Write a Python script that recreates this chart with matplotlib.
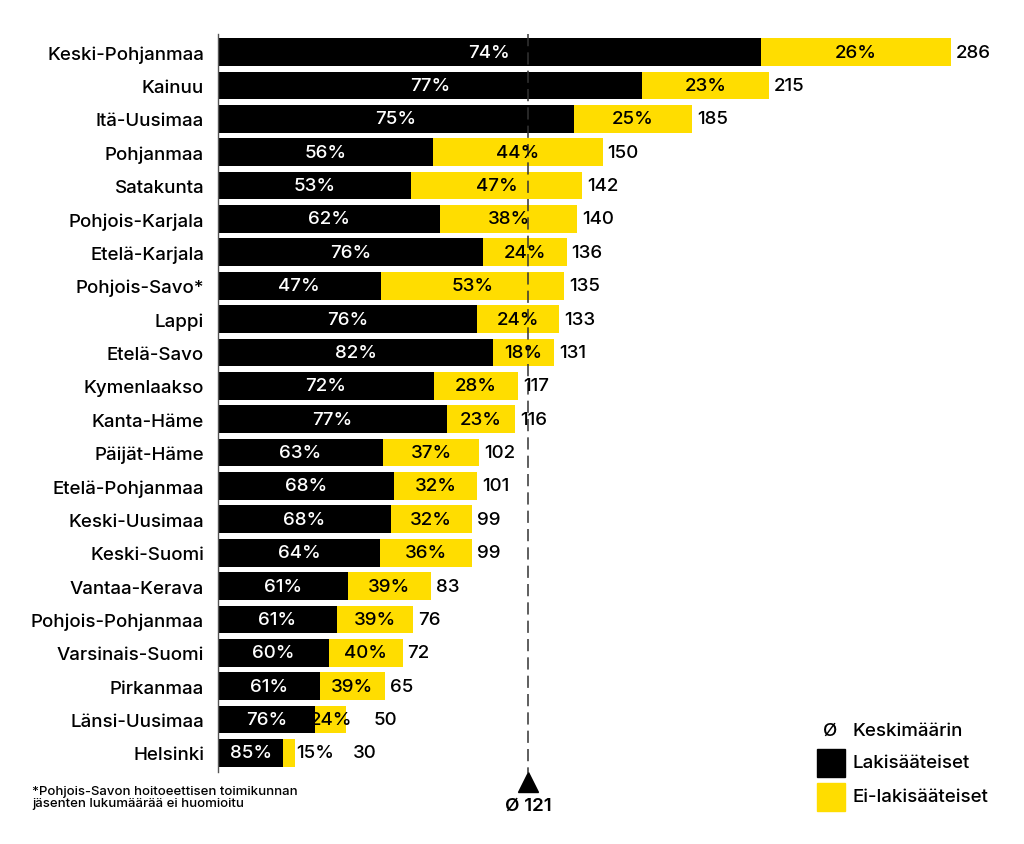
import matplotlib.pyplot as plt
from matplotlib.patches import Rectangle

plt.rcParams['font.family'] = ['Inter', 'DejaVu Sans']
plt.rcParams['font.weight'] = 'medium'

alueet = ['Keski-Pohjanmaa', 'Kainuu', 'Itä-Uusimaa', 'Pohjanmaa', 'Satakunta',
          'Pohjois-Karjala', 'Etelä-Karjala', 'Pohjois-Savo*', 'Lappi', 'Etelä-Savo',
          'Kymenlaakso', 'Kanta-Häme', 'Päijät-Häme', 'Etelä-Pohjanmaa', 'Keski-Uusimaa',
          'Keski-Suomi', 'Vantaa-Kerava', 'Pohjois-Pohjanmaa', 'Varsinais-Suomi',
          'Pirkanmaa', 'Länsi-Uusimaa', 'Helsinki']
laki = [74, 77, 75, 56, 53, 62, 76, 47, 76, 82, 72, 77, 63, 68, 68, 64, 61, 61, 60, 61, 76, 85]
eilaki = [26, 23, 25, 44, 47, 38, 24, 53, 24, 18, 28, 23, 37, 32, 32, 36, 39, 39, 40, 39, 24, 15]
yhteensa = [286, 215, 185, 150, 142, 140, 136, 135, 133, 131, 117, 116, 102, 101, 99, 99,
            83, 76, 72, 65, 50, 30]
keskiarvo = 121

MUSTA = '#000000'
KELTA = '#FFDD00'

fig = plt.figure(figsize=(10.24, 8.45), dpi=100)
ax = fig.add_axes([218/1024, 72/845, 769/1024, 738/845])

y = list(range(len(alueet)))
musta_w = [t*p/100 for t, p in zip(yhteensa, laki)]
kelta_w = [t*p/100 for t, p in zip(yhteensa, eilaki)]

ax.barh(y, musta_w, height=0.83, color=MUSTA, zorder=2)
ax.barh(y, kelta_w, left=musta_w, height=0.83, color=KELTA, zorder=2)

fs = 13.5
for i in y:
    ax.text(musta_w[i]/2, i, f'{laki[i]}%', color='white', ha='center', va='center',
            fontsize=fs, zorder=4)
    if kelta_w[i] < 8:
        # liian kapea, teksti palkin perään
        ax.annotate(f'{eilaki[i]}%', (yhteensa[i], i), xytext=(1, 0), textcoords='offset pixels',
                    ha='left', va='center', fontsize=fs, zorder=4)
        off = 58
    elif kelta_w[i] < 15:
        ax.text(musta_w[i] + kelta_w[i]/2, i, f'{eilaki[i]}%', ha='center', va='center',
                fontsize=fs, zorder=4)
        off = 27
    else:
        ax.text(musta_w[i] + kelta_w[i]/2, i, f'{eilaki[i]}%', ha='center', va='center',
                fontsize=fs, zorder=4)
        off = 5
    ax.annotate(str(yhteensa[i]), (yhteensa[i], i), xytext=(off, 0), textcoords='offset pixels',
                ha='left', va='center', fontsize=fs, zorder=4)

ax.set_xlim(0, 300)
ax.set_ylim(21.57, -0.54)
ax.set_yticks(y)
ax.set_yticklabels(alueet, fontsize=fs)
ax.tick_params(axis='y', length=0, pad=10)
ax.set_xticks([])
for s in ['top', 'right', 'bottom']:
    ax.spines[s].set_visible(False)
ax.spines['left'].set_color('#555555')
ax.spines['left'].set_linewidth(1)

# keskiarvoviiva
ax.vlines(keskiarvo, -0.54, 21.6, colors='#333333', linestyles=(0, (8, 4)), linewidth=1.1,
          zorder=3, clip_on=False)
ax.plot([keskiarvo], [21.88], marker='^', markersize=15, color='black', clip_on=False)
ax.text(keskiarvo, 22.55, 'Ø 121', ha='center', va='center', fontsize=fs,
        fontweight='semibold', clip_on=False)

# selite
fig.text(830/1024, 1 - 731/845, 'Ø', ha='center', va='center', fontsize=fs)
fig.text(852/1024, 1 - 731/845, 'Keskimäärin', ha='left', va='center', fontsize=fs)
fig.patches.append(Rectangle((817/1024, 1 - 778/845), 28/1024, 28/845, color=MUSTA,
                             transform=fig.transFigure))
fig.text(852/1024, 1 - 764/845, 'Lakisääteiset', ha='left', va='center', fontsize=fs)
fig.patches.append(Rectangle((817/1024, 1 - 812/845), 28/1024, 28/845, color=KELTA,
                             transform=fig.transFigure))
fig.text(852/1024, 1 - 798/845, 'Ei-lakisääteiset', ha='left', va='center', fontsize=fs)

fig.text(32/1024, 1 - 798/845,
         '*Pohjois-Savon hoitoeettisen toimikunnan\njäsenten lukumäärää ei huomioitu',
         ha='left', va='center', fontsize=9.5, linespacing=1.1)

fig.savefig('out.png', dpi=100)
